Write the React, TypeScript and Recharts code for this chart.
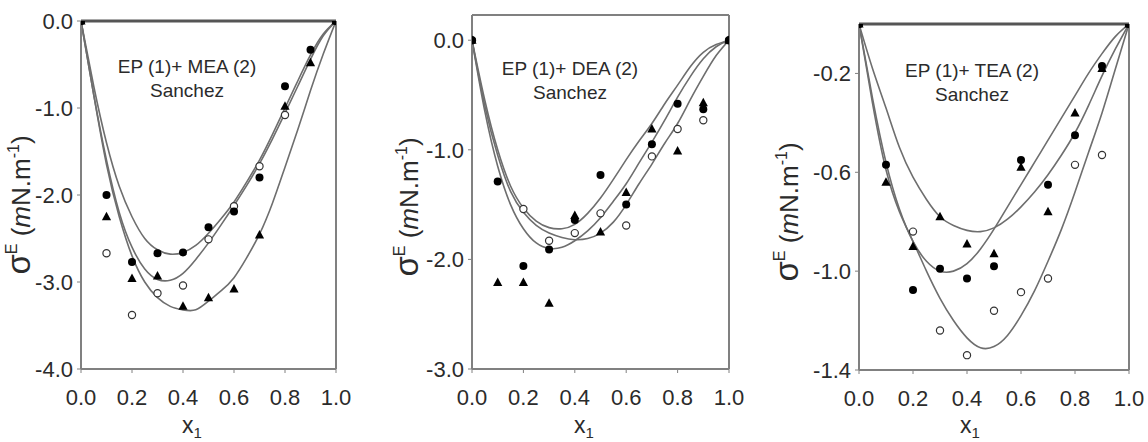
import React from 'react'
import { ComposedChart, Line, Scatter, XAxis, YAxis, ReferenceLine } from 'recharts'

// compositions x1 where the deviations were measured
const xMeasured = [0, 0.1, 0.2, 0.3, 0.4, 0.5, 0.6, 0.7, 0.8, 0.9, 1.0]
// compositions at which the fitted curves are tabulated
const xFit = [0, 0.05, 0.1, 0.15, 0.2, 0.25, 0.3, 0.35, 0.4, 0.45, 0.5, 0.55, 0.6, 0.65, 0.7, 0.75, 0.8, 0.85, 0.9, 0.95, 1.0]

const xTicks = [0, 0.2, 0.4, 0.6, 0.8, 1.0]

// EP (1) + MEA (2)
const meaFilled = [0, -2.0, -2.77, -2.67, -2.66, -2.37, -2.19, -1.8, -0.75, -0.33, 0]
const meaTriangle = [0, -2.25, -2.96, -2.93, -3.28, -3.18, -3.08, -2.46, -0.98, -0.48, 0]
const meaOpen = [0, -2.67, -3.38, -3.13, -3.04, -2.51, -2.13, -1.67, -1.08, null, 0]
const meaFitA = [0, -0.75, -1.4, -1.9, -2.25, -2.5, -2.63, -2.68, -2.66, -2.58, -2.44, -2.27, -2.08, -1.85, -1.6, -1.31, -1.0, -0.69, -0.39, -0.15, 0]
const meaFitB = [0, -0.85, -1.6, -2.2, -2.6, -2.85, -2.97, -2.98, -2.9, -2.74, -2.55, -2.34, -2.12, -1.89, -1.64, -1.36, -1.06, -0.75, -0.44, -0.17, 0]
const meaFitC = [0, -0.85, -1.65, -2.25, -2.7, -3.0, -3.18, -3.28, -3.32, -3.32, -3.22, -3.1, -2.95, -2.72, -2.45, -2.1, -1.68, -1.25, -0.8, -0.38, 0]

// EP (1) + DEA (2)
const deaFilled = [0, -1.29, -2.06, -1.91, -1.64, -1.23, -1.5, -0.95, -0.58, -0.63, 0]
const deaTriangle = [0, -2.21, -2.21, -2.4, -1.6, -1.75, -1.39, -0.81, -1.01, -0.57, 0]
const deaOpen = [0, null, -1.54, -1.83, -1.76, -1.58, -1.69, -1.06, -0.81, -0.73, 0]
const deaFitA = [0, -0.55, -1.0, -1.33, -1.53, -1.65, -1.71, -1.72, -1.68, -1.58, -1.44, -1.27, -1.09, -0.92, -0.76, -0.58, -0.41, -0.24, -0.11, -0.04, 0]
const deaFitB = [0, -0.6, -1.05, -1.38, -1.57, -1.69, -1.76, -1.8, -1.82, -1.81, -1.76, -1.66, -1.5, -1.31, -1.13, -0.94, -0.76, -0.54, -0.33, -0.14, 0]
const deaFitC = [0, -0.65, -1.15, -1.5, -1.72, -1.85, -1.9, -1.89, -1.83, -1.74, -1.62, -1.47, -1.31, -1.12, -0.93, -0.73, -0.52, -0.33, -0.17, -0.06, 0]

// EP (1) + TEA (2)
const teaFilled = [0, -0.57, -1.076, -0.99, -1.03, -0.98, -0.55, -0.65, -0.45, -0.17, 0]
const teaTriangle = [0, -0.64, -0.9, -0.78, -0.89, -0.93, -0.58, -0.76, -0.36, -0.18, 0]
const teaOpen = [0, null, -0.84, -1.24, -1.34, -1.16, -1.085, -1.03, -0.57, -0.53, 0]
const teaFitA = [0, -0.18, -0.34, -0.5, -0.62, -0.71, -0.78, -0.815, -0.835, -0.84, -0.825, -0.79, -0.74, -0.68, -0.61, -0.53, -0.44, -0.33, -0.21, -0.1, 0]
const teaFitB = [0, -0.3, -0.56, -0.75, -0.88, -0.96, -1.0, -1.0, -0.97, -0.91, -0.83, -0.74, -0.65, -0.56, -0.47, -0.38, -0.29, -0.2, -0.12, -0.05, 0]
const teaFitC = [0, -0.32, -0.59, -0.76, -0.88, -1.0, -1.11, -1.2, -1.27, -1.31, -1.305, -1.26, -1.18, -1.08, -0.96, -0.83, -0.68, -0.52, -0.36, -0.18, 0]

const FONT = "'Liberation Sans', Arial, sans-serif"
const AXIS = '#808080'
const CURVE = '#6e6e6e'
const INK = '#2b2b2b'

const toPoints = (ys: (number | null)[]) =>
  xMeasured
    .map((x, i) => ({ x, y: ys[i] }))
    .filter(p => p.y !== null)

const FilledDot = (p: any) => <circle cx={p.cx} cy={p.cy} r={4} fill="#000" />
const OpenDot = (p: any) => (
  <circle cx={p.cx} cy={p.cy} r={3.6} fill="#fff" stroke="#333" strokeWidth={1.2} />
)
const TriangleDot = (p: any) => (
  <polygon
    points={`${p.cx},${p.cy - 5} ${p.cx - 4.6},${p.cy + 3.5} ${p.cx + 4.6},${p.cy + 3.5}`}
    fill="#000"
  />
)

interface PanelProps {
  left: number
  width: number
  marginLeft: number
  marginRight: number
  marginTop: number
  marginBottom: number
  yDomain: [number, number]
  yTicks: number[]
  filled: (number | null)[]
  triangle: (number | null)[]
  open: (number | null)[]
  fits: number[][]
  zeroOnTop: boolean
}

const Panel: React.FC<PanelProps> = ({
  left, width, marginLeft, marginRight, marginTop, marginBottom,
  yDomain, yTicks, filled, triangle, open, fits, zeroOnTop,
}) => {
  const fitRows = xFit.map((x, i) => ({ x, a: fits[0][i], b: fits[1][i], c: fits[2][i] }))
  return (
    <div style={{ position: 'absolute', left, top: 0 }}>
      <ComposedChart
        width={width}
        height={442}
        data={fitRows}
        margin={{ top: marginTop, right: marginRight, bottom: marginBottom, left: marginLeft }}
        style={{ overflow: 'visible' }}
      >
        <XAxis
          type="number"
          dataKey="x"
          domain={[0, 1]}
          ticks={xTicks}
          tickFormatter={(v: number) => v.toFixed(1)}
          height={50}
          tickSize={4}
          tickMargin={16}
          axisLine={{ stroke: AXIS, strokeWidth: 2 }}
          tickLine={{ stroke: AXIS }}
          tick={{ fontSize: 22, fill: INK, fontFamily: FONT }}
          interval={0}
          allowDataOverflow
        />
        <YAxis
          type="number"
          domain={yDomain}
          ticks={yTicks}
          tickFormatter={(v: number) => v.toFixed(1)}
          width={60}
          tickSize={4}
          tickMargin={4}
          axisLine={{ stroke: AXIS, strokeWidth: 2 }}
          tickLine={{ stroke: AXIS }}
          tick={{ fontSize: 22, fill: INK, fontFamily: FONT }}
          interval={0}
          allowDataOverflow
        />
        <ReferenceLine x={1} stroke={AXIS} strokeWidth={2} />
        <ReferenceLine
          y={yDomain[1]}
          stroke={zeroOnTop ? '#555' : AXIS}
          strokeWidth={zeroOnTop ? 3 : 2}
        />
        {['a', 'b', 'c'].map(k => (
          <Line
            key={k}
            type="natural"
            dataKey={k}
            stroke={CURVE}
            strokeWidth={1.6}
            dot={false}
            isAnimationActive={false}
          />
        ))}
        <Scatter data={toPoints(open)} dataKey="y" shape={OpenDot} isAnimationActive={false} />
        <Scatter data={toPoints(triangle)} dataKey="y" shape={TriangleDot} isAnimationActive={false} />
        <Scatter data={toPoints(filled)} dataKey="y" shape={FilledDot} isAnimationActive={false} />
      </ComposedChart>
    </div>
  )
}

const YTitle = ({ x, y }: { x: number; y: number }) => (
  <text
    transform={`translate(${x},${y}) rotate(-90)`}
    textAnchor="middle"
    fontFamily={FONT}
    fontSize={26}
    fill={INK}
  >
    <tspan fontSize={33}>σ</tspan>
    <tspan fontSize={16} dy={-13}>E</tspan>
    <tspan dy={13}> (</tspan>
    <tspan fontStyle="italic">m</tspan>
    <tspan>N.m</tspan>
    <tspan fontSize={16} dy={-11}>-1</tspan>
    <tspan dy={11}>)</tspan>
  </text>
)

const XTitle = ({ x, y }: { x: number; y: number }) => (
  <text x={x} y={y} fontFamily={FONT} fontSize={23} fill={INK} textAnchor="middle">
    x<tspan fontSize={15} dy={5}>1</tspan>
  </text>
)

const Caption = ({ x, y, system }: { x: number; y: number; system: string }) => (
  <g fontFamily={FONT} fontSize={19} fill={INK} textAnchor="middle">
    <text x={x} y={y}>{`EP (1)+ ${system} (2)`}</text>
    <text x={x} y={y + 24}>Sanchez</text>
  </g>
)

export default function App() {
  return (
    <div style={{ position: 'absolute', left: 0, top: 0, width: 1148, height: 442, background: '#fff', overflow: 'hidden' }}>
      <Panel
        left={0} width={365} marginLeft={21} marginRight={29} marginTop={21} marginBottom={23}
        yDomain={[-4, 0]} yTicks={[-4, -3, -2, -1, 0]}
        filled={meaFilled} triangle={meaTriangle} open={meaOpen}
        fits={[meaFitA, meaFitB, meaFitC]} zeroOnTop
      />
      <Panel
        left={390} width={365} marginLeft={22} marginRight={26} marginTop={15} marginBottom={23}
        yDomain={[-3, 0.23]} yTicks={[-3, -2, -1, 0]}
        filled={deaFilled} triangle={deaTriangle} open={deaOpen}
        fits={[deaFitA, deaFitB, deaFitC]} zeroOnTop={false}
      />
      <Panel
        left={770} width={378} marginLeft={29} marginRight={19} marginTop={24} marginBottom={22}
        yDomain={[-1.4, 0]} yTicks={[-1.4, -1.0, -0.6, -0.2]}
        filled={teaFilled} triangle={teaTriangle} open={teaOpen}
        fits={[teaFitA, teaFitB, teaFitC]} zeroOnTop
      />
      <svg
        width={1148}
        height={442}
        style={{ position: 'absolute', left: 0, top: 0, pointerEvents: 'none' }}
      >
        <YTitle x={30} y={205} />
        <YTitle x={418} y={207} />
        <YTitle x={798} y={212} />
        <XTitle x={192} y={433} />
        <XTitle x={584} y={433} />
        <XTitle x={970} y={433} />
        <Caption x={187} y={73} system="MEA" />
        <Caption x={570} y={75} system="DEA" />
        <Caption x={972} y={77} system="TEA" />
      </svg>
    </div>
  )
}
